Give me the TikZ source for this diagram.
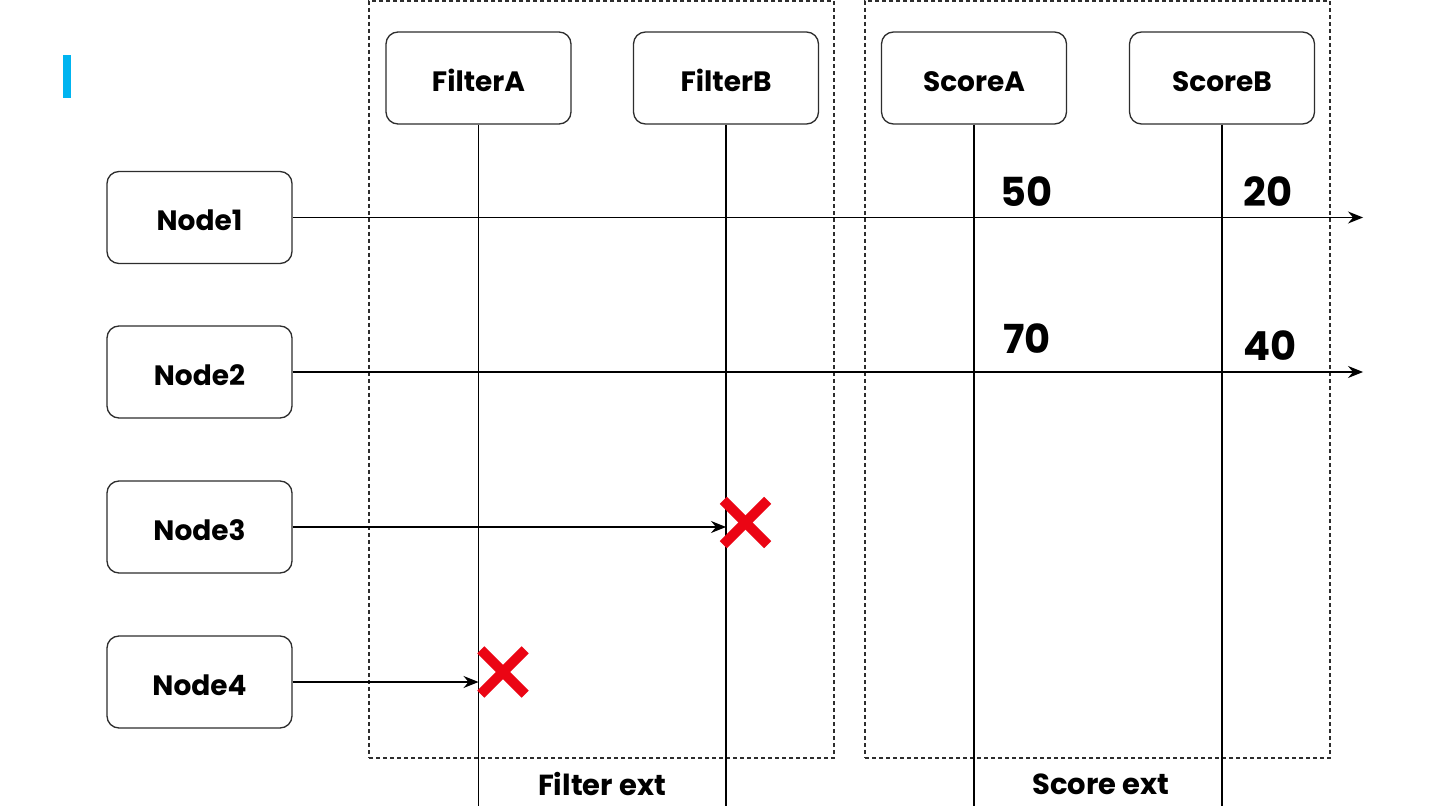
\documentclass[tikz,border=0pt]{standalone}
\usepackage{fontspec}
\setmainfont{Poppins}
\usetikzlibrary{arrows.meta}
\definecolor{barblue}{RGB}{0,180,240}
\definecolor{xred}{RGB}{235,5,20}
\definecolor{edge}{RGB}{45,45,45}
\tikzset{
  actor/.style={draw=edge, line width=1.3pt, rounded corners=12pt, minimum width=185pt, minimum height=92pt, font=\fontsize{28}{32}\selectfont\bfseries, inner sep=0pt, text height=27pt, text depth=0pt},
  grp/.style={draw=edge, line width=1.1pt, dash pattern=on 4pt off 3pt},
  life/.style={draw=black, line width=1.3pt},
  msg/.style={draw=black, line width=1.3pt, -{Stealth[length=15pt,width=12pt,inset=5pt]}},
  val/.style={font=\fontsize{40}{46}\selectfont\bfseries, inner sep=0pt},
  grplabel/.style={font=\fontsize{29}{34}\selectfont\bfseries, inner sep=0pt},
  xmark/.style={draw=xred, line width=10pt},
  xbox/.style={minimum width=44pt, minimum height=44pt, inner sep=0pt}
}
\begin{document}
\begin{tikzpicture}[x=1pt,y=1pt]
\useasboundingbox (0,0) rectangle (1440,-810);
\fill[white] (0,0) rectangle (1440,-810);
% blue bar
\fill[barblue] (63,-55) rectangle (71,-98);
% group frames
\node[grp, minimum width=465pt, minimum height=757pt, inner sep=0pt] (gF) at (601.5,-379.5) {};
\node[grp, minimum width=465pt, minimum height=757pt, inner sep=0pt] (gS) at (1097.5,-379.5) {};
\node[grplabel] (lF) at (602,-784) {Filter ext};
\node[grplabel] (lS) at (1101,-784) {Score ext};
% lifeline heads
\node[actor] (fa) at (478.5,-78) {FilterA};
\node[actor] (fb) at (726,-78) {FilterB};
\node[actor] (sa) at (974,-78) {ScoreA};
\node[actor] (sb) at (1222,-78) {ScoreB};
\coordinate (faE) at (478.5,-806);
\coordinate (fbE) at (726,-806);
\coordinate (saE) at (974,-806);
\coordinate (sbE) at (1222,-806);
\draw[life] (fa.south) -- (faE);
\draw[life] (fb.south) -- (fbE);
\draw[life] (sa.south) -- (saE);
\draw[life] (sb.south) -- (sbE);
% nodes
\node[actor] (n1) at (199.5,-217.5) {Node1};
\node[actor] (n2) at (199.5,-372) {Node2};
\node[actor] (n3) at (199.5,-527) {Node3};
\node[actor] (n4) at (199.5,-682) {Node4};
% message ends
\coordinate (e1) at (1363,-217.5);
\coordinate (e2) at (1363,-372);
\coordinate (e3) at (726,-527);
\coordinate (e4) at (478.5,-682);
\draw[msg] (n1.east) -- (e1);
\draw[msg] (n2.east) -- (e2);
\draw[msg] (n3.east) -- (e3);
\draw[msg] (n4.east) -- (e4);
% values
\node[val] (v50) at (1027,-192) {50};
\node[val] (v20) at (1268,-192) {20};
\node[val] (v70) at (1027,-339) {70};
\node[val] (v40) at (1270,-346) {40};
% red crosses
\node[xbox] (x3) at (745.5,-522.5) {};
\node[xbox] (x4) at (503,-672) {};
\draw[xmark] (x3.north west) -- (x3.south east);
\draw[xmark] (x3.south west) -- (x3.north east);
\draw[xmark] (x4.north west) -- (x4.south east);
\draw[xmark] (x4.south west) -- (x4.north east);
\end{tikzpicture}
\end{document}
